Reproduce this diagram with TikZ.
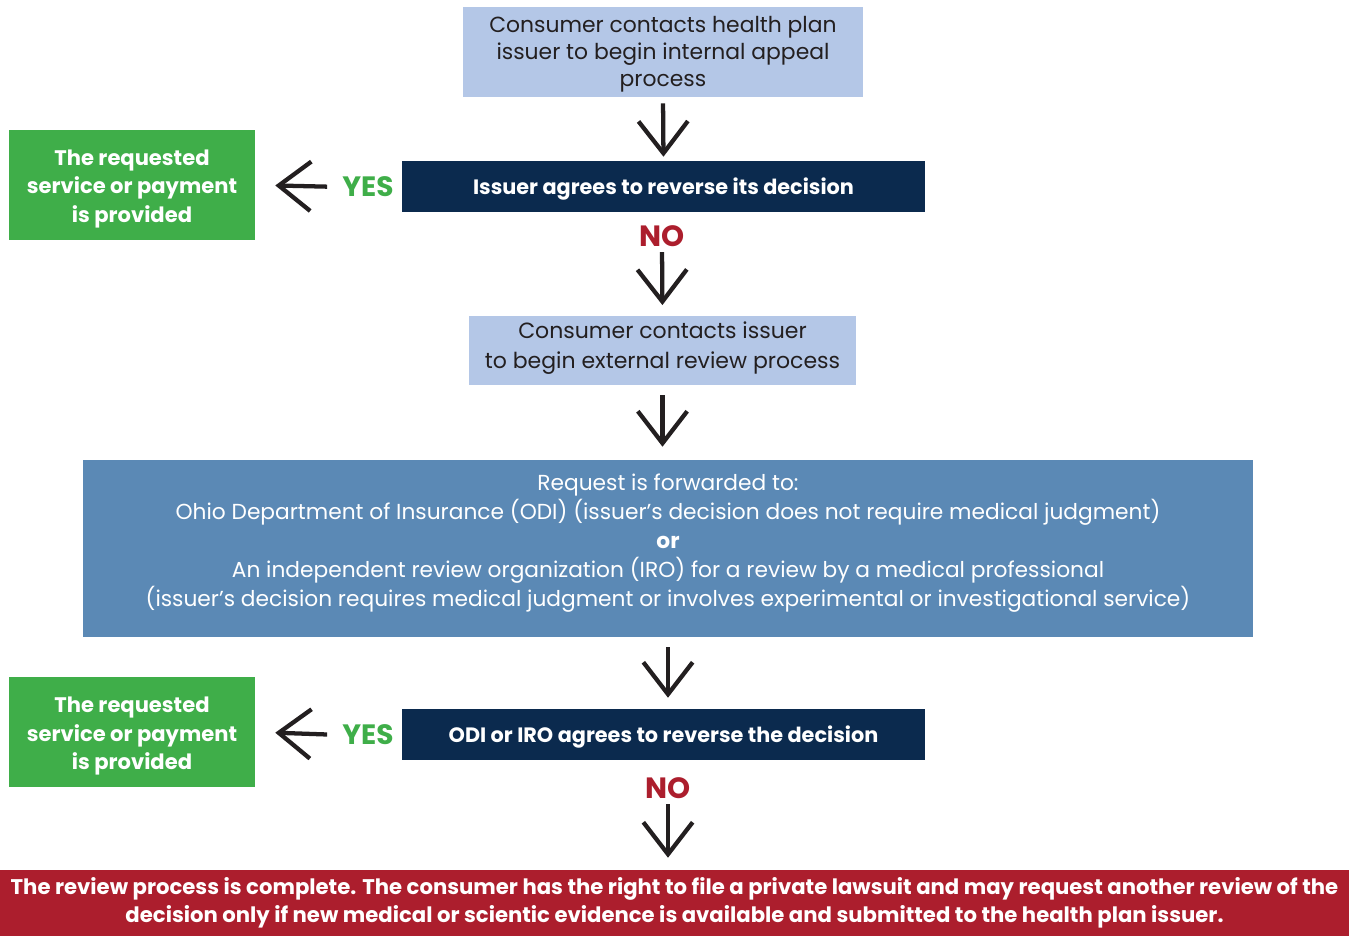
\documentclass[tikz,border=0pt]{standalone}
\usepackage{fontspec}
\setmainfont{Poppins}
\usetikzlibrary{arrows.meta}
\definecolor{lightbox}{HTML}{B4C7E7}
\definecolor{navy}{HTML}{0B2A4E}
\definecolor{grn}{HTML}{3FAE49}
\definecolor{midblue}{HTML}{5B89B5}
\definecolor{darkred}{HTML}{AC1E2D}
\definecolor{ink}{HTML}{231F20}
\begin{document}
\begin{tikzpicture}[x=0.75pt,y=-0.75pt,
  boxshape/.style={inner sep=0pt},
  lbox/.style={boxshape, fill=lightbox},
  ltext/.style={inner sep=0pt, text=ink, align=center, font=\fontsize{16.4}{20.25}\selectfont},
  nbox/.style={boxshape, fill=navy, minimum width=392.25pt, minimum height=38.25pt},
  ntext/.style={inner sep=0pt, text=white, align=center, font=\bfseries\fontsize{15.6}{18}\selectfont},
  gbox/.style={boxshape, fill=grn, minimum width=184.5pt, minimum height=82.5pt},
  gtext/.style={inner sep=0pt, text=white, align=center, font=\bfseries\fontsize{15.8}{21.4}\selectfont},
  yeslab/.style={inner sep=0pt, text=grn, font=\bfseries\fontsize{21}{24}\selectfont},
  nolab/.style={inner sep=0pt, text=darkred, font=\bfseries\fontsize{22}{24}\selectfont},
  flow/.style={draw=ink, line width=3.2pt, -{Straight Barb[length=24pt,width=37pt]}},
]
\useasboundingbox (0,0) rectangle (1349,936);
% boxes
\node[lbox, minimum width=300pt, minimum height=67.5pt] (b1) at (663,52) {};
\node[ltext] (b1t) at ([yshift=-1.5pt]b1.center)
  {Consumer contacts health plan\\issuer to begin internal appeal\\process};
\node[nbox] (b2) at (663.5,186.5) {};
\node[ntext] (b2t) at ([yshift=-2.25pt]b2.center) {Issuer agrees to reverse its decision};
\node[gbox] (g1) at (132,185) {};
\node[gtext] (g1t) at ([yshift=-3pt]g1.center) {The requested\\service or payment\\is provided};
\node[yeslab] (yes1) at (368,187) {YES};
\node[nolab] (no1) at (662,236) {NO};
\node[lbox, minimum width=290.25pt, minimum height=51.75pt] (b3) at (662.5,350.5) {};
\node[ltext, font=\fontsize{16.5}{22.5}\selectfont] (b3t) at ([yshift=1.5pt]b3.center)
  {Consumer contacts issuer\\to begin external review process};
\node[boxshape, fill=midblue, minimum width=877.5pt, minimum height=132.75pt] (b4) at (668,548.5) {};
\node[inner sep=0pt, text=white, align=center, font=\fontsize{16.3}{21.75}\selectfont] (b4t) at (668,543.5)
  {Request is forwarded to:\\Ohio Department of Insurance (ODI) (issuer’s decision does not require medical judgment)\\\textbf{or}\\An independent review organization (IRO) for a review by a medical professional\\(issuer’s decision requires medical judgment or involves experimental or investigational service)};
\node[nbox] (b5) at (663.5,734.5) {};
\node[ntext] (b5t) at ([yshift=-2.25pt]b5.center) {ODI or IRO agrees to reverse the decision};
\node[gbox] (g2) at (132,732) {};
\node[gtext] (g2t) at ([yshift=-3pt]g2.center) {The requested\\service or payment\\is provided};
\node[yeslab] (yes2) at (368,735) {YES};
\node[nolab] (no2) at (668,788) {NO};
\node[boxshape, fill=darkred, minimum width=1011.75pt, minimum height=49.5pt] (red) at (674.5,903) {};
\node[inner sep=0pt, text=white, align=center, font=\bfseries\fontsize{15.9}{21}\selectfont] (redt) at (red.center)
  {The review process is complete. The consumer has the right to file a private lawsuit and may request another review of the\\decision only if new medical or scientic evidence is available and submitted to the health plan issuer.};
% connectors
\draw[flow, shorten <=4.5pt, shorten >=3pt] (b1.south) -- (b2.north);
\draw[flow, shorten <=4pt, shorten >=8pt] (no1.south) -- (b3.north);
\draw[flow, shorten <=7.5pt, shorten >=9.75pt] (b3.south) -- (b3.south |- b4.north);
\draw[flow, shorten <=7.5pt, shorten >=8.25pt] (b4.south) -- (b4.south |- b5.north);
\draw[flow, shorten <=4pt, shorten >=9pt] (no2.south) -- (no2.south |- red.north);
\draw[flow, shorten <=11.25pt, shorten >=15pt] (yes1.west) -- (g1.east);
\draw[flow, shorten <=11.25pt, shorten >=15pt] (yes2.west) -- (g2.east);
\end{tikzpicture}
\end{document}
